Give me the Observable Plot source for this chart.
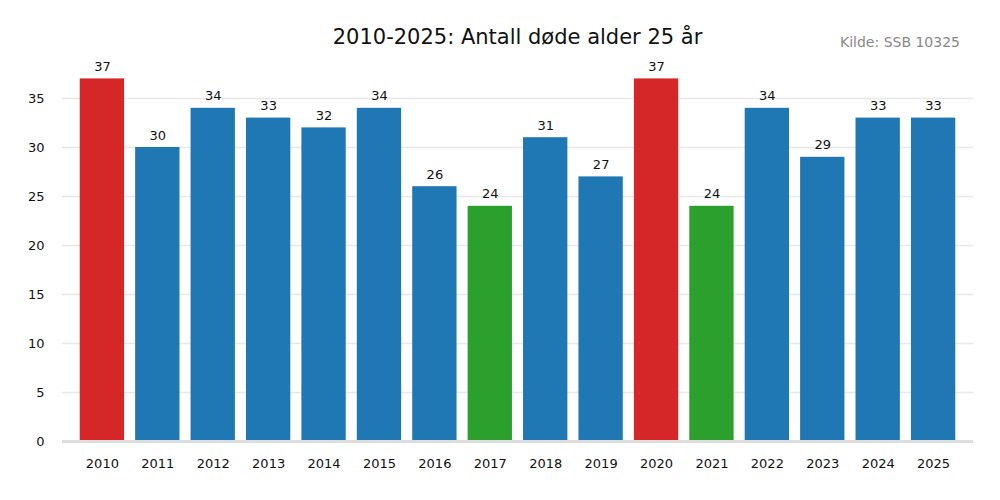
<!DOCTYPE html>
<html>
<head>
<meta charset="utf-8">
<script src="https://cdn.jsdelivr.net/npm/d3@7"></script>
<script src="https://cdn.jsdelivr.net/npm/@observablehq/plot@0.6"></script>
<style>
  html, body { margin: 0; padding: 0; background: #fff; font-family: "DejaVu Sans", sans-serif; }
  #wrap { width: 1000px; height: 500px; position: relative; }
  #header { position: relative; height: 60px; }
  #title { position: absolute; left: 62px; width: 911px; top: 24px; text-align: center; font-size: 21px; line-height: 26px; color: #111; }
  #source { position: absolute; right: 40px; top: 34px; font-size: 14px; line-height: 17px; color: #888; }
</style>
</head>
<body>
<div id="wrap">
  <div id="header">
    <div id="title">2010-2025: Antall døde alder 25 år</div>
    <div id="source">Kilde: SSB 10325</div>
  </div>
  <div id="chart"></div>
</div>
<script>
const years = ["2010","2011","2012","2013","2014","2015","2016","2017","2018","2019","2020","2021","2022","2023","2024","2025"];
const deaths = [37,30,34,33,32,34,26,24,31,27,37,24,34,29,33,33];
const yTicks = [0,5,10,15,20,25,30,35];

const maxV = d3.max(deaths), minV = d3.min(deaths);
const data = years.map((y, i) => ({year: y, value: deaths[i],
  color: deaths[i] === maxV ? "#d62728" : deaths[i] === minV ? "#2ca02c" : "#1f77b4"}));

const chart = Plot.plot({
  width: 1000,
  height: 440,
  marginTop: 8.6,
  marginBottom: 59,
  marginLeft: 62,
  marginRight: 27,
  style: {fontFamily: "DejaVu Sans, sans-serif", fontSize: "13px", color: "#111"},
  x: {domain: years, paddingInner: 0.2, paddingOuter: 0.32, round: false, label: null},
  y: {domain: [0, 38], label: null},
  marks: [
    Plot.gridY(yTicks.filter(t => t > 0), {stroke: "#e8e8e8", strokeOpacity: 1, strokeWidth: 1.5}),
    Plot.barY(data, {x: "year", y: "value", fill: "color"}),
    Plot.text(data, {x: "year", y: "value", text: d => String(d.value), dy: -12, fontSize: 13, fill: "#111"}),
    Plot.ruleY([0], {stroke: "#dddddd", strokeWidth: 3}),
    Plot.axisY(yTicks, {tickSize: 0, tickPadding: 18, fontSize: 13, label: null}),
    Plot.axisX({tickSize: 0, tickPadding: 17, fontSize: 13, label: null})
  ]
});
document.getElementById("chart").appendChild(chart);
</script>
</body>
</html>
